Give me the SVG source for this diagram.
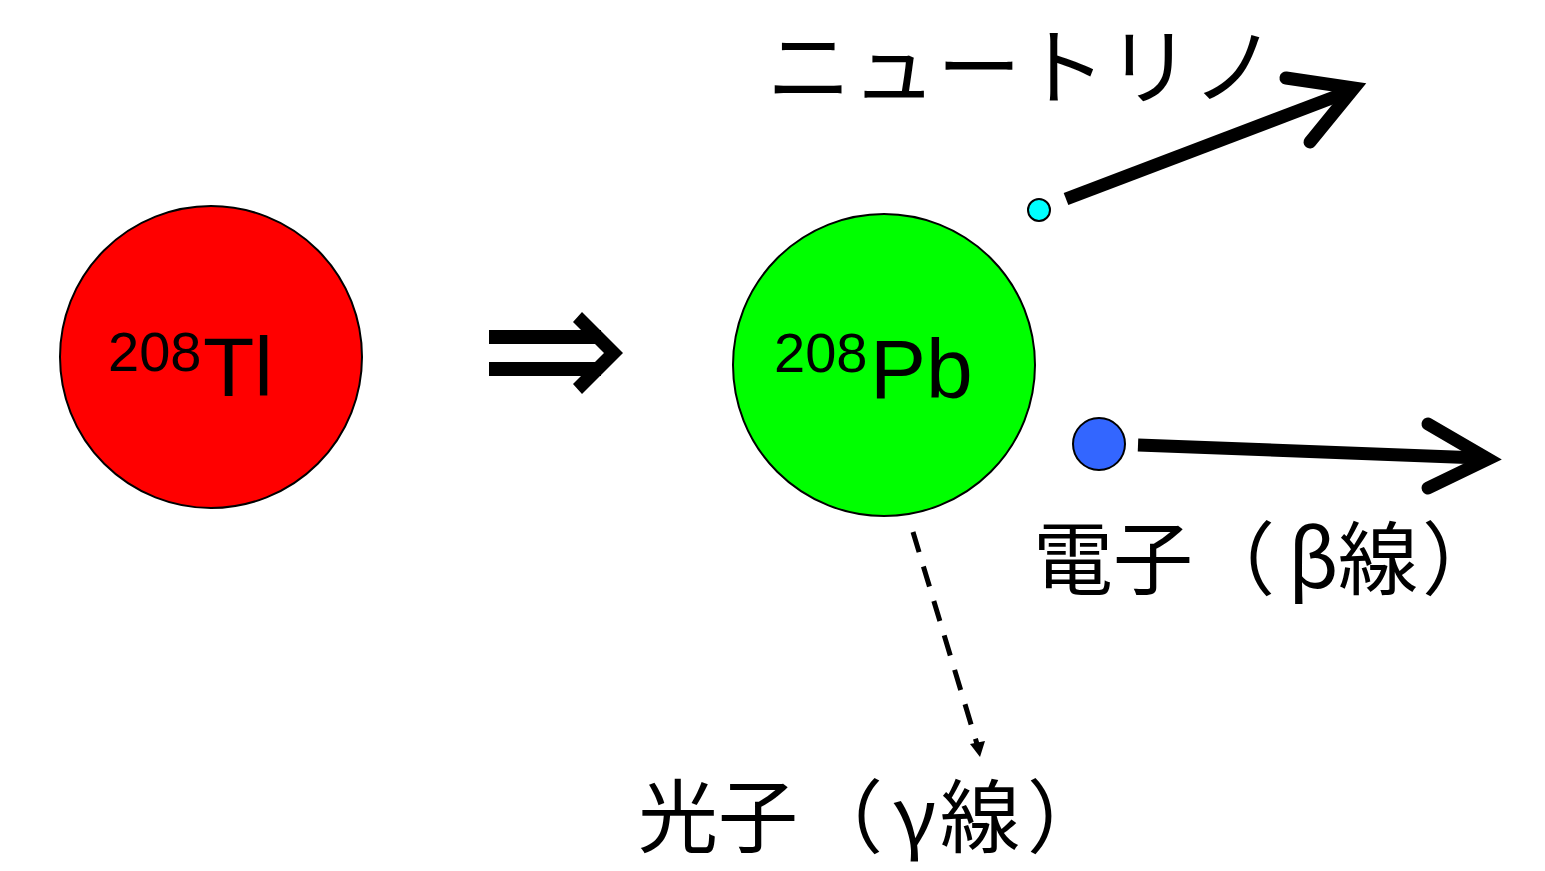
<svg xmlns="http://www.w3.org/2000/svg" width="1545" height="871" viewBox="0 0 1545 871">
<style>
.nuc{stroke:#000;stroke-width:2}
.lbl{font-family:"Liberation Sans",Arial,sans-serif;fill:#000}
.jp{font-family:"Noto Sans CJK JP","Noto Sans CJK SC",sans-serif;font-size:80px;fill:#000}
.thick{fill:none;stroke:#000;stroke-width:13}
</style>
<rect width="1545" height="871" fill="#fff"/>
<g id="tl">
<circle class="nuc" cx="211" cy="357" r="151" fill="#ff0000"/>
<text class="lbl" x="108" y="371" font-size="56">208</text>
<text class="lbl" x="203" y="396" font-size="84">Tl</text>
</g>
<g id="pb">
<circle class="nuc" cx="884" cy="365" r="151" fill="#00ff00"/>
<text class="lbl" x="774" y="372" font-size="56">208</text>
<text class="lbl" x="870" y="398" font-size="84">Pb</text>
</g>
<g id="implies">
<rect x="489" y="330" width="112" height="14" fill="#000"/>
<rect x="489" y="362" width="112" height="14" fill="#000"/>
<polygon points="573,322 582,312 623,353 582,394 573,384 604,353" fill="#000"/>
</g>
<g id="neutrino">
<circle cx="1039" cy="210" r="11" fill="#00ffff" stroke="#000" stroke-width="2"/>
<text class="jp" x="767" y="98" style="font-size:84px" letter-spacing="1">ニュートリノ</text>
</g>
<g id="electron">
<circle cx="1099" cy="444" r="26" fill="#3366ff" stroke="#000" stroke-width="2"/>
<text class="jp" x="1033 1113 1195 1288 1338 1422" y="588">電子（β線）</text>
</g>
<g id="photon">
<text class="jp" x="638 718 803 893 940 1027" y="846">光子（γ線）</text>
</g>
<g id="connectors">
<line class="thick" x1="1066" y1="199" x2="1345" y2="93"/>
<polyline class="thick" points="1286,78 1354,88 1310,142" stroke-linecap="round" stroke-linejoin="miter" stroke-miterlimit="10"/>
<line class="thick" x1="1138" y1="445" x2="1480" y2="458"/>
<polyline class="thick" points="1428,424 1488,459 1428,488" stroke-linecap="round" stroke-linejoin="miter" stroke-miterlimit="10"/>
<line x1="913" y1="532" x2="977" y2="744" stroke="#000" stroke-width="5" stroke-dasharray="21,15"/>
<polygon points="970,744 985,741 980,757" fill="#000"/>
</g>
</svg>
